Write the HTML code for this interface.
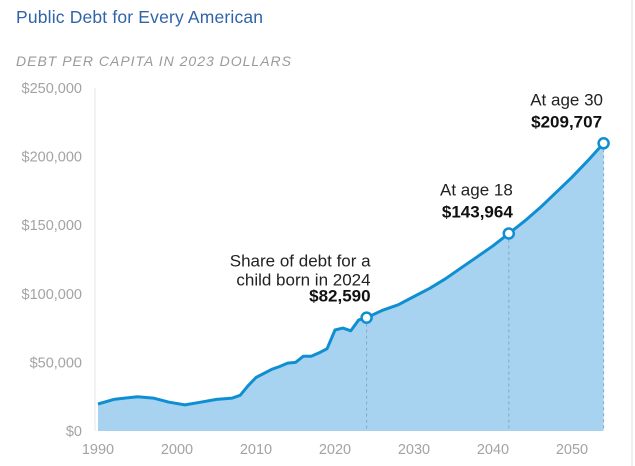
<!DOCTYPE html>
<html><head><meta charset="utf-8"><style>
body{margin:0;background:#fff;}
svg{display:block;font-family:"Liberation Sans",sans-serif;}
</style></head><body>
<svg id="chart" width="635" height="466" viewBox="0 0 635 466" xmlns="http://www.w3.org/2000/svg">
<text x="16" y="23" font-size="17.5" fill="#2f64a8" textLength="247">Public Debt for Every American</text>
<text x="16" y="66" font-size="14" font-style="italic" fill="#9a9a9a" textLength="275">DEBT PER CAPITA IN 2023 DOLLARS</text>
<line x1="632" y1="0" x2="632" y2="466" stroke="#ddd"/>
<g id="plot"></g>
</svg>
<script>
const years=[1990,1992,1995,1997,1999,2001,2003,2005,2007,2008,2009,2010,2012,2013,2014,2015,2016,2017,2018,2019,2020,2021,2022,2023,2024,2026,2028,2030,2032,2034,2036,2038,2040,2042,2044,2046,2048,2050,2052,2054];
const debt=[19.7,23,25,24,21,19,21,23,24,26,33,39,45,47,49.5,50,54.5,54.5,57,60,73.6,75,73,81,82.59,88,92,98,104,111,119,127,135,143.964,153,163,174,185,197,209.707];
const yTicks=[0,50000,100000,150000,200000,250000];
const yTickLabels=["$0","$50,000","$100,000","$150,000","$200,000","$250,000"];
const xTicks=[1990,2000,2010,2020,2030,2040,2050];
const markYears=[2024,2042,2054];
const markVals=[82.59,143.964,209.707];
const markLines1=["Share of debt for a","At age 18","At age 30"];
const markLabel0="child born in 2024";
const markValLabels=["$82,590","$143,964","$209,707"];

const NS="http://www.w3.org/2000/svg";
const g=document.getElementById('plot');
const x=yr=>98+(yr-1990)*7.9;
const y=v=>431-v*1.372/1000;
const yk=v=>y(v*1000);
function el(t,a){const e=document.createElementNS(NS,t);for(const k in a)e.setAttribute(k,a[k]);g.appendChild(e);return e;}
function txt(s,a){const e=el('text',a);e.textContent=s;return e;}

const ax=el('line',{x1:95,y1:y(250000),x2:95,y2:431,stroke:'#e4e4e4'});



yTicks.forEach((v,i)=>{
 const t=txt(yTickLabels[i],{x:82,y:y(v)+5,'font-size':14.5,fill:'#a3a3a3','text-anchor':'end'});
 
 
});
xTicks.forEach(v=>{
 const t=txt(String(v),{x:x(v),y:454,'font-size':14.5,fill:'#a3a3a3','text-anchor':'middle'});
 
 
});

let pts=years.map((yr,i)=>x(yr).toFixed(1)+','+yk(debt[i]).toFixed(1));
const area=el('path',{d:'M'+x(years[0])+',431 L'+pts.join(' L')+' L'+x(years[years.length-1])+',431 Z',fill:'#a8d3f0'});



markYears.forEach((yr,i)=>{
 const d=el('line',{x1:x(yr),y1:yk(markVals[i]),x2:x(yr),y2:431,stroke:'#7fa9c6','stroke-dasharray':'3,3','stroke-width':1});
 
 
});

const line=el('polyline',{points:pts.join(' '),fill:'none',stroke:'#0f8fd2','stroke-width':3,'stroke-linejoin':'round'});



markYears.forEach((yr,i)=>{
 const c=el('circle',{cx:x(yr),cy:yk(markVals[i]),r:5,fill:'#fff',stroke:'#0f8fd2','stroke-width':2.5});
 
 
 const ay=yk(markVals[i]);
 const anchor=i==2?'middle':'end';
 const axx=i==2?x(yr)-37:x(yr)+4;
 if(i==0){
  const a=txt(markLines1[0],{x:axx,y:ay-51,'font-size':17,fill:'#222','text-anchor':anchor});
  
  const b=txt(markLabel0,{x:axx,y:ay-32,'font-size':17,fill:'#222','text-anchor':anchor});
  
 } else {
  const a=txt(markLines1[i],{x:axx,y:ay-38,'font-size':17,fill:'#222','text-anchor':anchor});
  
 }
 const v=txt(markValLabels[i],{x:axx,y:ay-16,'font-size':17,'font-weight':'bold',fill:'#111','text-anchor':anchor});
 
 
});
</script>
</body></html>
